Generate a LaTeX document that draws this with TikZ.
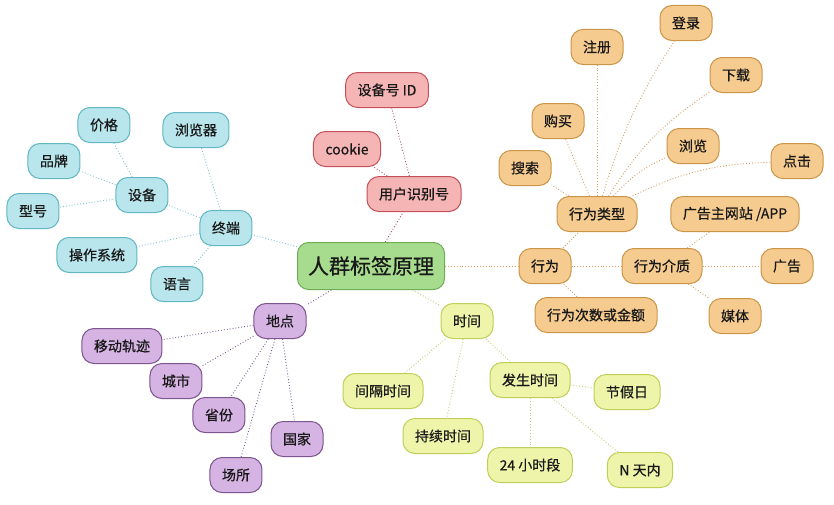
\documentclass[tikz,border=0pt]{standalone}
\usepackage{fontspec}
\setmainfont{Noto Sans CJK SC}[FakeBold=0.6]
\usepackage{tikz}
\usetikzlibrary{positioning}

\definecolor{bluefill}{HTML}{B9E5EC}
\definecolor{bluedraw}{HTML}{63B7C2}
\definecolor{blueln}{HTML}{7FC4CE}
\definecolor{redfill}{HTML}{F5B5B5}
\definecolor{reddraw}{HTML}{C4515A}
\definecolor{redln}{HTML}{A8505E}
\definecolor{greenfill}{HTML}{A7DB8D}
\definecolor{greendraw}{HTML}{6EAF55}
\definecolor{orangefill}{HTML}{F5CB8F}
\definecolor{orangedraw}{HTML}{CB9548}
\definecolor{orangeln}{HTML}{D4A060}
\definecolor{purplefill}{HTML}{D5B3E2}
\definecolor{purpledraw}{HTML}{7D5590}
\definecolor{purpleln}{HTML}{7E5F98}
\definecolor{yellowfill}{HTML}{EEF5AA}
\definecolor{yellowdraw}{HTML}{BFCF5A}
\definecolor{yellowln}{HTML}{C4CE78}

\begin{document}
\begin{tikzpicture}[on grid,
  box/.style={rounded corners=12pt,line width=1pt,inner xsep=12pt,inner ysep=0pt,
    minimum height=35pt,font=\fontsize{14}{16}\selectfont,text=black!90},
  rootnode/.style={box,fill=greenfill,draw=greendraw,rounded corners=11pt,
    minimum height=47pt,inner xsep=10.5pt,font=\fontsize{21}{24}\selectfont},
  bluenode/.style={box,fill=bluefill,draw=bluedraw},
  rednode/.style={box,fill=redfill,draw=reddraw},
  orangenode/.style={box,fill=orangefill,draw=orangedraw},
  purplenode/.style={box,fill=purplefill,draw=purpledraw},
  yellownode/.style={box,fill=yellowfill,draw=yellowdraw}]
	\useasboundingbox (-371pt,-238pt) rectangle (463pt,266pt);
	\node[rootnode]   (root)                                  {人群标签原理};
	% terminal
	\node[bluenode]   (zhongduan) [above left=38pt and 145pt of root]      {终端};
	\node[bluenode]   (shebei)    [above left=33pt and 84pt of zhongduan]  {设备};
	\node[bluenode]   (jiage)     [above left=70pt and 38pt of shebei]     {价格};
	\node[bluenode]   (pinpai)    [above left=34pt and 88pt of shebei]     {品牌};
	\node[bluenode]   (xinghao)   [below left=16pt and 109pt of shebei]    {型号};
	\node[bluenode]   (liulanqi)  [above left=98pt and 30pt of zhongduan]  {浏览器};
	\node[bluenode]   (xitong)    [below left=27pt and 129pt of zhongduan] {操作系统};
	\node[bluenode]   (yuyan)     [below left=56pt and 49pt of zhongduan]  {语言};
	% user id
	\node[rednode]    (yonghu)    [above right=72pt and 43pt of root]      {用户识别号};
	\node[rednode]    (shebeiid)  [above left=104pt and 27pt of yonghu]    {设备号 ID};
	\node[rednode]    (cookie)    [above left=45pt and 67pt of yonghu]     {cookie};
	% behaviour
	\node[orangenode] (xingwei)   [right=174pt of root]                    {行为};
	\node[orangenode] (leixing)   [above right=52pt and 52pt of xingwei]   {行为类型};
	\node[orangenode] (sousuo)    [above left=46pt and 72pt of leixing]    {搜索};
	\node[orangenode] (goumai)    [above left=93pt and 39pt of leixing]    {购买};
	\node[orangenode] (zhuce)     [above=167pt of leixing]                 {注册};
	\node[orangenode] (denglu)    [above right=191pt and 89pt of leixing]  {登录};
	\node[orangenode] (xiazai)    [above right=139pt and 139pt of leixing] {下载};
	\node[orangenode] (liulan)    [above right=68pt and 96pt of leixing]   {浏览};
	\node[orangenode] (dianji)    [above right=53pt and 200pt of leixing]  {点击};
	\node[orangenode] (jiezhi)    [right=117pt of xingwei]                 {行为介质};
	\node[orangenode] (wangzhan)  [above right=52pt and 73pt of jiezhi]    {广告主网站 /APP};
	\node[orangenode] (guanggao)  [right=125pt of jiezhi]                  {广告};
	\node[orangenode] (meiti)     [below right=50pt and 73pt of jiezhi]    {媒体};
	\node[orangenode] (cishu)     [below right=49pt and 51pt of xingwei]   {行为次数或金额};
	% place
	\node[purplenode] (didian)    [below left=55pt and 91pt of root]       {地点};
	\node[purplenode] (guiji)     [below left=25pt and 158pt of didian]    {移动轨迹};
	\node[purplenode] (chengshi)  [below left=60pt and 104pt of didian]    {城市};
	\node[purplenode] (shengfen)  [below left=94pt and 61pt of didian]     {省份};
	\node[purplenode] (guojia)    [below right=118pt and 17pt of didian]   {国家};
	\node[purplenode] (changsuo)  [below left=154pt and 44pt of didian]    {场所};
	% time
	\node[yellownode] (shijian)   [below right=55pt and 96pt of root]      {时间};
	\node[yellownode] (jiange)    [below left=70pt and 84pt of shijian]    {间隔时间};
	\node[yellownode] (chixu)     [below left=115pt and 24pt of shijian]   {持续时间};
	\node[yellownode] (fasheng)   [below right=59pt and 63pt of shijian]   {发生时间};
	\node[yellownode] (jiaqi)     [below right=12pt and 97pt of fasheng]   {节假日};
	\node[yellownode] (xiaoshi)   [below=85pt of fasheng]                  {24 小时段};
	\node[yellownode] (tiannei)   [below right=90pt and 110pt of fasheng]  {N 天内};
	\tikzset{every edge/.style={draw,dotted,line width=0.9pt}}
	\tikzset{blueline/.style={blueln},redline/.style={redln},orangeline/.style={orangeln},
	  purpleline/.style={purpleln},yellowline/.style={yellowln}}
	\path
	(root)      edge [blueline]   (zhongduan)
	(zhongduan) edge [blueline]   (shebei)
	(shebei)    edge [blueline]   (jiage)
	(shebei)    edge [blueline]   (pinpai)
	(shebei)    edge [blueline]   (xinghao)
	(zhongduan) edge [blueline]   (liulanqi)
	(zhongduan) edge [blueline]   (xitong)
	(zhongduan) edge [blueline]   (yuyan)
	(root)      edge [redline]    (yonghu)
	(yonghu)    edge [redline]    (shebeiid)
	(yonghu)    edge [redline]    (cookie)
	(root)      edge [orangeline] (xingwei)
	(xingwei)   edge [orangeline] (leixing)
	(leixing)   edge [orangeline] (sousuo)
	(leixing)   edge [orangeline] (goumai)
	(leixing)   edge [orangeline] (zhuce)
	(leixing)   edge [orangeline,bend left=8] (denglu)
	(leixing)   edge [orangeline,bend left=12] (xiazai)
	(leixing)   edge [orangeline,bend left=12] (liulan)
	(leixing)   edge [orangeline,bend left=12] (dianji)
	(xingwei)   edge [orangeline] (jiezhi)
	(jiezhi)    edge [orangeline] (wangzhan)
	(jiezhi)    edge [orangeline] (guanggao)
	(jiezhi)    edge [orangeline] (meiti)
	(xingwei)   edge [orangeline] (cishu)
	(root)      edge [purpleline] (didian)
	(didian)    edge [purpleline] (guiji)
	(didian)    edge [purpleline] (chengshi)
	(didian)    edge [purpleline] (shengfen)
	(didian)    edge [purpleline] (guojia)
	(didian)    edge [purpleline] (changsuo)
	(root)      edge [yellowline] (shijian)
	(shijian)   edge [yellowline] (jiange)
	(shijian)   edge [yellowline] (chixu)
	(shijian)   edge [yellowline] (fasheng)
	(fasheng)   edge [yellowline] (jiaqi)
	(fasheng)   edge [yellowline] (xiaoshi)
	(fasheng)   edge [yellowline] (tiannei);
\end{tikzpicture}
\end{document}
